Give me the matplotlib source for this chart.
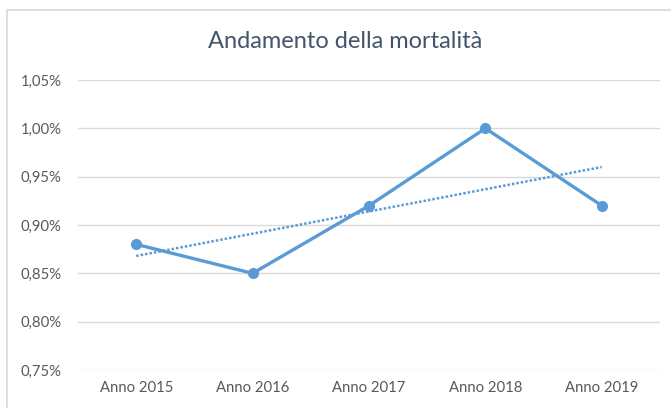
import numpy as np
import matplotlib.pyplot as plt
from matplotlib.patches import Rectangle
from matplotlib.ticker import FuncFormatter

# dati
anni = ["Anno 2015", "Anno 2016", "Anno 2017", "Anno 2018", "Anno 2019"]
mortalita = [0.88, 0.85, 0.92, 1.00, 0.92]  # in %
y_ticks = [0.75, 0.80, 0.85, 0.90, 0.95, 1.00, 1.05]

BLU = "#5B9BD5"
GRIGIO = "#595959"

plt.rcParams['font.family'] = ['Lato', 'DejaVu Sans']

fig = plt.figure(figsize=(6.71, 4.08), dpi=100)
ax = fig.add_axes([78/671, 38/408, 582/671, 290/408])

# cornice del grafico
fig.patches.append(Rectangle((7/671, -0.1), 1.0, 1 - 10/408 + 0.1, transform=fig.transFigure,
                             fill=False, edgecolor="#D9D9D9", linewidth=1.2))

x = np.arange(len(anni))
ax.plot(x, mortalita, color=BLU, linewidth=2.4, marker="o", markersize=7, zorder=3)

# linea di tendenza lineare
coef = np.polyfit(x, mortalita, 1)
ax.plot(x[[0, -1]], np.polyval(coef, x[[0, -1]]), color=BLU, linewidth=1.8,
        linestyle=(0, (1, 0.8)), zorder=2)

ax.set_xlim(-0.5, len(anni) - 0.5)
ax.set_ylim(0.75, 1.05)
ax.set_xticks(x)
ax.set_xticklabels(anni)
ax.set_yticks(y_ticks)
ax.yaxis.set_major_formatter(FuncFormatter(lambda v, p: f"{v:.2f}%".replace(".", ",")))

ax.grid(axis="y", color="#D9D9D9", linewidth=1)
ax.set_axisbelow(True)
for s in ax.spines.values():
    s.set_visible(False)
ax.tick_params(length=0, labelsize=10.7, labelcolor=GRIGIO)
ax.tick_params(axis="y", pad=12)
ax.tick_params(axis="x", pad=8)

fig.text(345/671, 1 - 42/408, "Andamento della mortalità", ha="center", va="center",
         fontsize=17, color="#44546A")

fig.savefig("out.png", dpi=100)
